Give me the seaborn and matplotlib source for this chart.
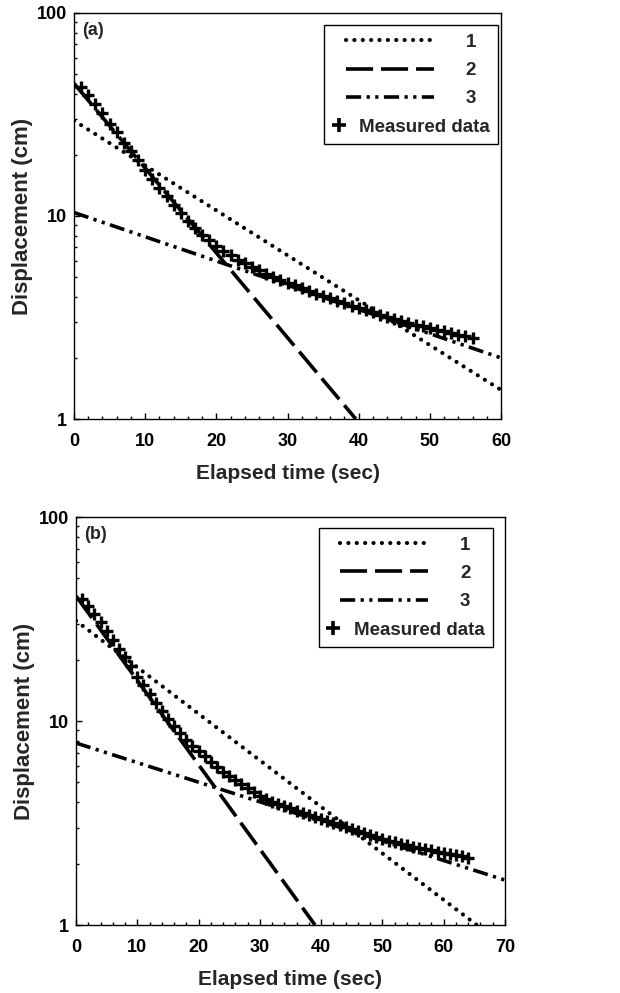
import matplotlib
matplotlib.use("Agg")
import numpy as np
import pandas as pd
import matplotlib.pyplot as plt
import seaborn as sns
from matplotlib.lines import Line2D
from matplotlib.legend_handler import HandlerBase

# ---------------- data ----------------
# panel (a): measured displacement (cm) vs elapsed time (sec)
time_a = list(range(1, 57))
disp_a = [43.0, 39.5, 35.5, 32.0, 28.5, 25.8, 23.0, 21.0, 18.8, 16.8,
          15.2, 13.8, 12.5, 11.3, 10.3, 9.5, 8.7, 8.1, 7.6, 7.15,
          6.75, 6.4, 6.1, 5.85, 5.6, 5.4, 5.2, 5.0, 4.85, 4.7,
          4.55, 4.4, 4.28, 4.15, 4.05, 3.93, 3.82, 3.72, 3.62, 3.52,
          3.43, 3.35, 3.27, 3.19, 3.12, 3.05, 2.98, 2.92, 2.86, 2.80,
          2.75, 2.70, 2.65, 2.60, 2.56, 2.52]
# fitted straight lines (on log scale) for panel (a): end points
fit1_a_t, fit1_a_y = [0, 60], [29.5, 1.39]
fit2_a_t, fit2_a_y = [0, 39.6], [45.0, 1.0]
fit3_a_t, fit3_a_y = [0, 60], [10.4, 2.0]

# panel (b)
time_b = list(range(1, 65))
disp_b = [39.5, 36.5, 33.5, 30.5, 27.5, 25.0, 22.5, 20.5, 18.5, 16.5,
          15.0, 13.6, 12.3, 11.2, 10.2, 9.4, 8.7, 8.1, 7.55, 7.1,
          6.7, 6.3, 5.95, 5.65, 5.4, 5.15, 4.9, 4.7, 4.5, 4.3,
          4.15, 4.02, 3.92, 3.82, 3.73, 3.64, 3.55, 3.46, 3.38, 3.30,
          3.22, 3.15, 3.08, 3.01, 2.94, 2.88, 2.82, 2.76, 2.70, 2.64,
          2.59, 2.54, 2.50, 2.46, 2.42, 2.38, 2.35, 2.32, 2.29, 2.26,
          2.23, 2.20, 2.17, 2.14]
fit1_b_t, fit1_b_y = [0, 65.4], [31.0, 1.0]
fit2_b_t, fit2_b_y = [0, 39.0], [41.0, 1.0]
fit3_b_t, fit3_b_y = [0, 70], [7.8, 1.66]

legend_labels = ["1", "2", "3", "Measured data"]
panel_tags = ["(a)", "(b)"]
xmax = [60, 70]
ytick_vals = [1, 10, 100]
ytick_labels = ["1", "10", "100"]
xlabel = "Elapsed time (sec)"
ylabel = "Displacement (cm)"

# ---------------- style ----------------
sns.set_theme(style="ticks")
plt.rcParams["font.family"] = ["Liberation Sans", "DejaVu Sans"]
plt.rcParams["font.weight"] = "bold"
plt.rcParams["axes.labelweight"] = "bold"

styles = [
    dict(lw=3.0, linestyle=(0, (0.01, 2.0)), dash_capstyle="round"),
    dict(lw=2.6, linestyle=(0, (7.5, 2.2))),
    dict(lw=2.6, linestyle=(0, (4.2, 1.5, 0.9, 1.5, 0.9, 1.5))),
]


class LineHandler(HandlerBase):
    def __init__(self, style, box_w, x0, x1):
        super().__init__()
        self.style, self.box_w, self.x0, self.x1 = style, box_w, x0, x1

    def legend_artist(self, legend, orig_handle, fontsize, handlebox):
        handlebox.width = self.box_w
        y = (handlebox.height - handlebox.ydescent) / 2.0
        ln = Line2D([self.x0, self.x1], [y, y], color="black", **self.style)
        handlebox.add_artist(ln)
        return ln


class PlusHandler(HandlerBase):
    def __init__(self, box_w, xm):
        super().__init__()
        self.box_w, self.xm = box_w, xm

    def legend_artist(self, legend, orig_handle, fontsize, handlebox):
        handlebox.width = self.box_w
        y = (handlebox.height - handlebox.ydescent) / 2.0
        ln = Line2D([self.xm], [y], color="black", marker="+", markersize=10,
                    markeredgewidth=2.6, linestyle="none")
        handlebox.add_artist(ln)
        return ln


fig = plt.figure(figsize=(6.2, 9.93), dpi=100)
W, H = 620.0, 993.0
rects = [
    (74 / W, 1 - 419 / H, 427 / W, 406 / H),
    (76 / W, 1 - 925 / H, 429 / W, 408 / H),
]
panels = [
    (time_a, disp_a, [(fit1_a_t, fit1_a_y), (fit2_a_t, fit2_a_y), (fit3_a_t, fit3_a_y)]),
    (time_b, disp_b, [(fit1_b_t, fit1_b_y), (fit2_b_t, fit2_b_y), (fit3_b_t, fit3_b_y)]),
]
leg_anchor = [(0.994, 0.970), (0.972, 0.973)]

for i, (rect, (t, d, fits)) in enumerate(zip(rects, panels)):
    ax = fig.add_axes(rect)
    ax.set_yscale("log")
    handles = []
    for (ft, fy), st in zip(fits, styles):
        df = pd.DataFrame({"t": ft, "y": fy})
        sns.lineplot(data=df, x="t", y="y", ax=ax, color="black", **st)
        h = ax.lines[-1]
        handles.append(h)
    dfm = pd.DataFrame({"t": t, "y": d})
    sns.scatterplot(data=dfm, x="t", y="y", ax=ax, marker="+", s=85,
                    color="black", linewidth=2.4, zorder=3)
    handles.append(ax.collections[-1])

    ax.set_xlim(0, xmax[i])
    ax.set_ylim(1, 100)
    ax.set_xticks(list(range(0, xmax[i] + 1, 10)))
    ax.set_xticklabels([str(v) for v in range(0, xmax[i] + 1, 10)])
    ax.xaxis.set_minor_locator(matplotlib.ticker.MultipleLocator(2))
    ax.set_yticks(ytick_vals)
    ax.set_yticklabels(ytick_labels)
    ax.yaxis.set_minor_locator(matplotlib.ticker.LogLocator(base=10, subs=np.arange(2, 10)))
    ax.yaxis.set_minor_formatter(matplotlib.ticker.NullFormatter())
    ax.tick_params(which="both", direction="in", top=False, right=False,
                   width=1.0, colors="black", labelsize=13)
    ax.tick_params(which="major", length=4.5)
    ax.tick_params(which="minor", length=2.5)
    ax.tick_params(axis="x", which="major", pad=10)
    ax.tick_params(axis="y", which="major", pad=5)
    for s in ax.spines.values():
        s.set_visible(True)
        s.set_color("black")
        s.set_linewidth(1.0)
    ax.set_xlabel(xlabel, fontsize=15, fontweight="bold", labelpad=10)
    ax.set_ylabel(ylabel, fontsize=16, fontweight="bold", labelpad=3)
    ax.text(0.018, 0.978, panel_tags[i], transform=ax.transAxes, ha="left",
            va="top", fontsize=13, fontweight="bold")

    hmap = {handles[k]: LineHandler(styles[k], 89, 9.5, 73) for k in range(3)}
    hmap[handles[3]] = PlusHandler(12.5, 4.5)
    leg = ax.legend(handles, legend_labels, handler_map=hmap, loc="upper right",
                    bbox_to_anchor=leg_anchor[i], borderaxespad=0,
                    handletextpad=0.5, labelspacing=0.6,
                    borderpad=0.45, fancybox=False, framealpha=1,
                    edgecolor="black", prop={"weight": "bold", "size": 13.5})
    leg.get_frame().set_linewidth(1.0)

fig.savefig("out.png", dpi=100)
